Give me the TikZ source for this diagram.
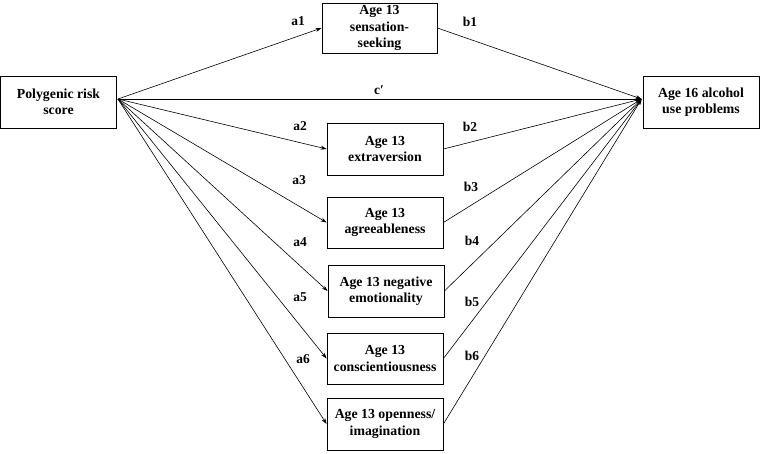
\documentclass[tikz,border=0pt]{standalone}
\usepackage{fontspec}
\setmainfont{Liberation Serif}
\usetikzlibrary{arrows.meta,calc}
\begin{document}
\begin{tikzpicture}[x=1pt,y=-1pt,
  box/.style={draw, line width=0.8pt, inner sep=0pt, align=center,
    font=\fontsize{13.8}{16.5}\selectfont\bfseries, minimum width=116pt, minimum height=52pt},
  lbl/.style={font=\fontsize{13.5}{15}\selectfont\bfseries, inner sep=0pt},
  path/.style={line width=0.6pt, -{Stealth[length=6pt,width=4pt]}},
  plain/.style={line width=0.6pt}]
\useasboundingbox (0,0) rectangle (760,453);
\node[box] (prs) at (58.5,102) {Polygenic risk\\score};
\node[box, minimum width=115pt, minimum height=50pt] (ss) at (379.5,28) {Age 13\\sensation-\\seeking};
\node[box] (ex) at (385,149) {Age 13\\extraversion};
\node[box, minimum height=51pt] (ag) at (385,222.5) {Age 13\\agreeableness};
\node[box] (ne) at (386,291) {Age 13 negative\\emotionality};
\node[box, minimum height=51pt] (co) at (385,358.5) {Age 13\\conscientiousness};
\node[box] (op) at (385,424) {Age 13 openness/\\imagination};
\node[box] (alc) at (701,102) {Age 16 alcohol\\use problems};
\coordinate (src) at ($(prs.east)+(1,-3)$);
\coordinate (tgt) at ($(alc.west)+(-1,-3)$);
\draw[path] (src) -- (ss.west);
\draw[path] (src) -- (tgt);
\draw[path] (src) -- (ex.west);
\draw[path] (src) -- (ag.west);
\draw[path] (src) -- (ne.west);
\draw[path] (src) -- (co.west);
\draw[path] (src) -- (op.west);
\draw[path] (ss.east) -- (tgt);
\draw[path] (ex.east) -- (tgt);
\draw[path] (ag.east) -- (tgt);
\draw[path] (ne.east) -- (tgt);
\draw[path] (co.east) -- (tgt);
\draw[path] (op.east) -- (tgt);
\node[lbl] (la1) at (298,21) {a1};
\node[lbl] (la2) at (300,126) {a2};
\node[lbl] (la3) at (299,180) {a3};
\node[lbl] (la4) at (300,242) {a4};
\node[lbl] (la5) at (300,297) {a5};
\node[lbl] (la6) at (303,359) {a6};
\node[lbl] (lb1) at (470,22) {b1};
\node[lbl] (lb2) at (470,127) {b2};
\node[lbl] (lb3) at (471,187) {b3};
\node[lbl] (lb4) at (472,241) {b4};
\node[lbl] (lb5) at (472,302) {b5};
\node[lbl] (lb6) at (472,356) {b6};
\node[lbl] (lc) at (379,90) {c′};
\end{tikzpicture}
\end{document}
